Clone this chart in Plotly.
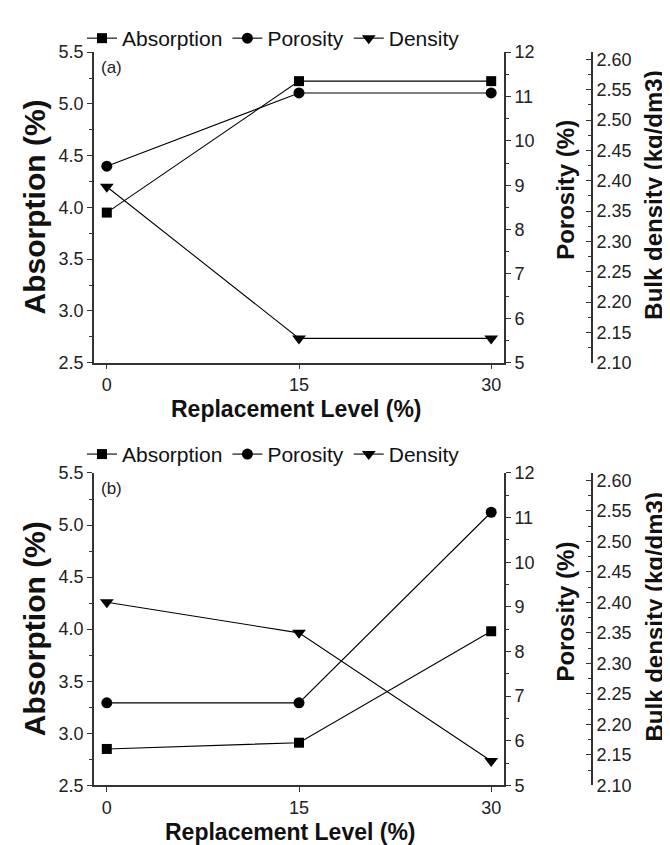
import plotly.graph_objects as go

# ---------------- data ----------------
x_levels = [0, 15, 30]
x_ticklabels = ["0", "15", "30"]

# panel (a)
abs_a = [3.95, 5.22, 5.22]
por_a = [9.43, 11.08, 11.08]
den_a = [2.39, 2.14, 2.14]

# panel (b)
abs_b = [2.85, 2.91, 3.98]
por_b = [6.85, 6.85, 11.12]
den_b = [2.40, 2.35, 2.14]

abs_ticks = [2.5, 3.0, 3.5, 4.0, 4.5, 5.0, 5.5]
por_ticks = [5, 6, 7, 8, 9, 10, 11, 12]
den_ticks = [2.10, 2.15, 2.20, 2.25, 2.30, 2.35, 2.40, 2.45, 2.50, 2.55, 2.60]

series_names = ["Absorption", "Porosity", "Density"]
panel_labels = ["(a)", "(b)"]

# ---------------- layout geometry ----------------
W, H = 670, 845
FONT = "Liberation Sans, Arial, sans-serif"
AXC = "#333333"


def px_x(p):
    return p / W


def px_y(p):
    return 1 - p / H


x_dom = [px_x(86), px_x(496)]
den_pos = px_x(584)
top_dom = [px_y(353), px_y(35)]
bot_dom = [px_y(786), px_y(466)]

fig = go.Figure()

symbols = ["square", "circle", "triangle-down"]
sizes = {"square": 10, "circle": 11, "triangle-down": 12}
panels = [
    (abs_a, por_a, den_a, "x", ["y", "y2", "y3"], "legend"),
    (abs_b, por_b, den_b, "x2", ["y4", "y5", "y6"], "legend2"),
]

for vals_abs, vals_por, vals_den, xa, yas, leg in panels:
    for name, vals, sym, ya in zip(series_names, [vals_abs, vals_por, vals_den], symbols, yas):
        fig.add_trace(go.Scatter(
            x=x_levels, y=vals, name=name, mode="lines+markers",
            xaxis=xa, yaxis=ya, legend=leg,
            line=dict(color="black", width=1.1),
            marker=dict(symbol=sym, size=sizes[sym], color="black"),
            cliponaxis=False,
        ))

tickfont = dict(family=FONT, size=18, color="#222")

common_axis = dict(showline=True, linecolor=AXC, linewidth=1.6, showgrid=False,
                   zeroline=False, tickfont=tickfont, tickcolor=AXC, ticklen=5, tickwidth=1.3)

minor_ticks = dict(ticks="outside", ticklen=3, tickcolor=AXC, tickwidth=1, showgrid=False)


def x_axis(anchor):
    return dict(domain=x_dom, anchor=anchor, range=[-1, 31], tickmode="array",
                tickvals=x_levels, ticktext=x_ticklabels, ticks="outside", **common_axis)


def y_left(dom):
    return dict(domain=dom, range=[2.5, 5.5], tickmode="array", tickvals=abs_ticks,
                ticktext=[f"{v:.1f}" for v in abs_ticks], ticks="outside",
                minor=dict(dtick=0.25, **minor_ticks), **common_axis)


def y_por(over, anchor):
    return dict(overlaying=over, anchor=anchor, side="right", range=[5, 12],
                tickmode="array", tickvals=por_ticks, ticktext=[str(v) for v in por_ticks],
                ticks="outside", minor=dict(dtick=0.5, **minor_ticks), **common_axis)


def y_den(over):
    return dict(overlaying=over, anchor="free", position=den_pos, side="right",
                range=[2.10, 2.612], tickmode="array", tickvals=den_ticks,
                ticktext=[f"{v:.2f}" for v in den_ticks], ticks="inside",
                minor=dict(dtick=0.025, ticks="inside", ticklen=3, tickcolor=AXC, tickwidth=1),
                **common_axis)


legend_common = dict(orientation="h", xanchor="left", yanchor="middle",
                     font=dict(family=FONT, size=21, color="#111"),
                     bgcolor="rgba(0,0,0,0)", itemwidth=30, tracegroupgap=0)

fig.update_layout(
    width=W, height=H,
    margin=dict(l=0, r=0, t=0, b=0),
    paper_bgcolor="white", plot_bgcolor="white",
    showlegend=True,
    xaxis=x_axis("y"),
    yaxis=y_left(top_dom),
    yaxis2=y_por("y", "x"),
    yaxis3=y_den("y"),
    xaxis2=x_axis("y4"),
    yaxis4=y_left(bot_dom),
    yaxis5=y_por("y4", "x2"),
    yaxis6=y_den("y4"),
    legend=dict(x=px_x(74), y=px_y(21), **legend_common),
    legend2=dict(x=px_x(74), y=px_y(447), **legend_common),
)

title_font = dict(family=FONT, size=30, color="#111")
side_font = dict(family=FONT, size=24, color="#111")

annotations = []
for (dom_top, dom_bot, lab, xt_y, xt_x) in [(35, 353, panel_labels[0], 400, 288),
                                            (466, 786, panel_labels[1], 834, 282)]:
    cy = px_y((dom_top + dom_bot) / 2)
    annotations += [
        dict(text="<b>Absorption (%)</b>", x=px_x(26), y=cy, xref="paper", yref="paper",
             textangle=-90, showarrow=False, font=title_font, xanchor="center", yanchor="middle"),
        dict(text="<b>Porosity (%)</b>", x=px_x(558), y=px_y((dom_top + dom_bot) / 2 - 18),
             xref="paper", yref="paper", textangle=-90, showarrow=False, font=side_font,
             xanchor="center", yanchor="middle"),
        dict(text="<b>Bulk density (kg/dm3)</b>", x=px_x(646), y=px_y((dom_top + dom_bot) / 2 - 12),
             xref="paper", yref="paper", textangle=-90, showarrow=False, font=side_font,
             xanchor="center", yanchor="middle"),
        dict(text="<b>Replacement Level (%)</b>", x=px_x(xt_x), y=px_y(xt_y), xref="paper",
             yref="paper", showarrow=False, font=dict(family=FONT, size=23, color="#111"),
             xanchor="center", yanchor="middle"),
        dict(text=lab, x=px_x(91), y=px_y(dom_top + 16), xref="paper", yref="paper",
             showarrow=False, font=dict(family=FONT, size=17, color="#222"),
             xanchor="left", yanchor="middle"),
    ]
fig.update_layout(annotations=annotations)

fig.write_html("out.html")
